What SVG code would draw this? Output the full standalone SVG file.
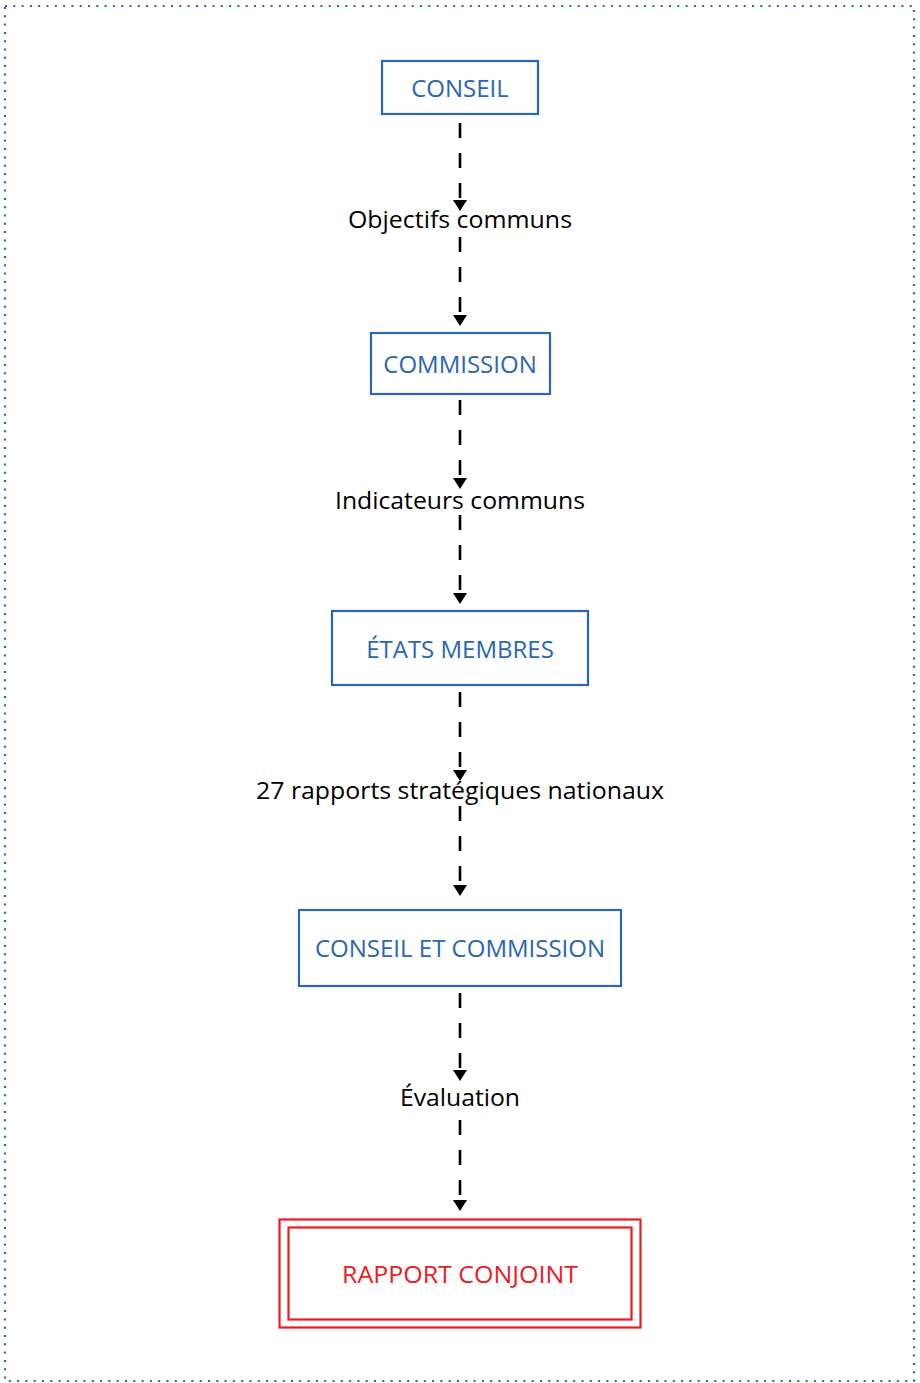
<svg xmlns="http://www.w3.org/2000/svg" width="920" height="1383" viewBox="0 0 920 1383">
<defs>
<style>
.box{fill:#fff;stroke:#2a66b2;stroke-width:2.2}
.btx{font-family:"Open Sans","Liberation Sans",sans-serif;font-size:24px;fill:#2a66b2;text-anchor:middle}
.red{fill:#fff;stroke:#ed1c24;stroke-width:2.2}
.rtx{font-family:"Open Sans","Liberation Sans",sans-serif;font-size:24px;fill:#ed1c24;text-anchor:middle}
.lbl{font-family:"Open Sans","Liberation Sans",sans-serif;font-size:23.5px;fill:#000;text-anchor:middle}
.cn{stroke:#000;stroke-width:2.6;stroke-dasharray:15 15;fill:none;marker-end:url(#ah)}
</style>
<marker id="ah" markerWidth="11" markerHeight="14" viewBox="0 0 11 14" refX="10" refY="7" orient="auto" markerUnits="userSpaceOnUse">
<path d="M0,0 L11,7 L0,14 Z" fill="#000"/>
</marker>
</defs>
<rect x="5" y="6" width="909" height="1375" fill="none" stroke="#2a66b2" stroke-width="2.2" stroke-dasharray="2 6.3"/>
<g id="connectors">
<line class="cn" x1="460" y1="123" x2="460" y2="210"/>
<line class="cn" x1="460" y1="237" x2="460" y2="325"/>
<line class="cn" x1="460" y1="400" x2="460" y2="488"/>
<line class="cn" x1="460" y1="515" x2="460" y2="603"/>
<line class="cn" x1="460" y1="692" x2="460" y2="780"/>
<line class="cn" x1="460" y1="806" x2="460" y2="895"/>
<line class="cn" x1="460" y1="993" x2="460" y2="1080"/>
<line class="cn" x1="460" y1="1120" x2="460" y2="1210"/>
</g>
<g id="labels">
<text class="lbl" x="460" y="228" textLength="224" lengthAdjust="spacingAndGlyphs">Objectifs communs</text>
<text class="lbl" x="460" y="509" textLength="250" lengthAdjust="spacingAndGlyphs">Indicateurs communs</text>
<text class="lbl" x="460" y="799" textLength="408" lengthAdjust="spacingAndGlyphs">27 rapports stratégiques nationaux</text>
<text class="lbl" x="460" y="1106" textLength="120" lengthAdjust="spacingAndGlyphs">Évaluation</text>
</g>
<g id="conseil">
<rect class="box" x="382" y="61" width="156" height="53"/>
<text class="btx" x="460" y="97">CONSEIL</text>
</g>
<g id="commission">
<rect class="box" x="371" y="333" width="179" height="61"/>
<text class="btx" x="460" y="373">COMMISSION</text>
</g>
<g id="etats-membres">
<rect class="box" x="332" y="611" width="256" height="74"/>
<text class="btx" x="460" y="658">ÉTATS MEMBRES</text>
</g>
<g id="conseil-et-commission">
<rect class="box" x="299" y="910" width="322" height="76"/>
<text class="btx" x="460" y="957">CONSEIL ET COMMISSION</text>
</g>
<g id="rapport-conjoint">
<rect class="red" x="279.5" y="1219.5" width="361" height="108"/>
<rect class="red" x="288.5" y="1227.5" width="343" height="92"/>
<text class="rtx" x="460" y="1283" textLength="236" lengthAdjust="spacingAndGlyphs">RAPPORT CONJOINT</text>
</g>
</svg>
